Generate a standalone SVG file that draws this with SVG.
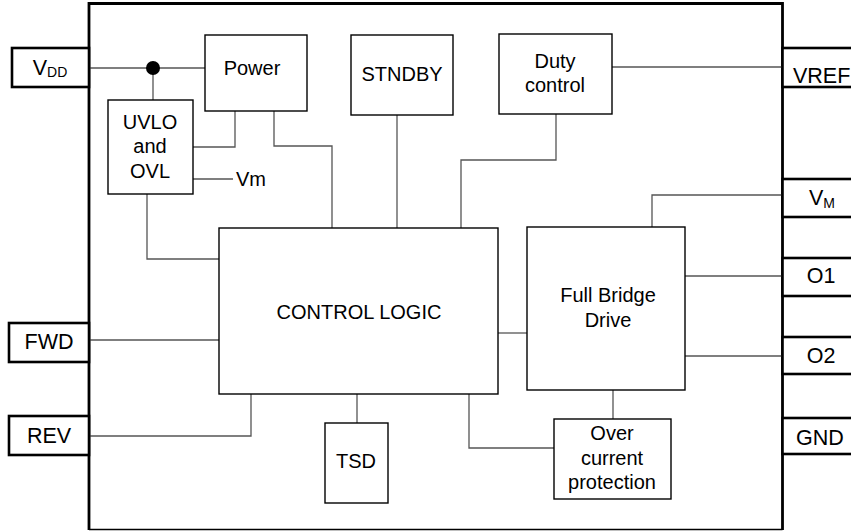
<svg xmlns="http://www.w3.org/2000/svg" width="851" height="531" viewBox="0 0 851 531">
<style>
text{font-family:"Liberation Sans",Arial,sans-serif;font-size:20px;fill:#000;text-anchor:middle}
.pin text{font-size:21.5px}
.blk{fill:#fff;stroke:#000;stroke-width:1.4}
.pinbox{fill:#fff;stroke:#000;stroke-width:2.6}
.wire{fill:none;stroke:#555;stroke-width:1.3}
</style>
<rect width="851" height="531" fill="#fff"/>
<g id="chip">
<path d="M89,530 L89,3.5 L782.5,3.5 L782.5,530" fill="none" stroke="#000" stroke-width="2.8"/>
<path d="M89,529.5 L782.5,529.5" fill="none" stroke="#000" stroke-width="1.5"/>
</g>
<g id="connectors">
<path class="wire" d="M89,68 H205"/>
<path class="wire" d="M153,68 V100"/>
<path class="wire" d="M235,111 V147 H193"/>
<path class="wire" d="M274,111 V146 H332 V228"/>
<path class="wire" d="M193,179 H233"/>
<path class="wire" d="M147,194 V259 H219"/>
<path class="wire" d="M397,115 V228"/>
<path class="wire" d="M556,114 V160 H461 V228"/>
<path class="wire" d="M612,67 H782"/>
<path class="wire" d="M782,195 H652 V227"/>
<path class="wire" d="M89,340 H219"/>
<path class="wire" d="M89,436 H251 V394"/>
<path class="wire" d="M498,333 H527"/>
<path class="wire" d="M357,394 V423"/>
<path class="wire" d="M469,394 V448 H554"/>
<path class="wire" d="M613,390 V419"/>
<path class="wire" d="M685,276 H782"/>
<path class="wire" d="M685,356 H782"/>
<circle cx="153" cy="68" r="7" fill="#000"/>
</g>
<g id="power"><rect class="blk" x="205" y="35" width="102" height="76"/><text x="252" y="75">Power</text></g>
<g id="uvlo"><rect class="blk" x="108" y="100" width="85" height="94"/><text x="150" y="129">UVLO</text><text x="150" y="153">and</text><text x="150" y="178">OVL</text></g>
<g id="vm-label"><text x="251" y="186">Vm</text></g>
<g id="stndby"><rect class="blk" x="351" y="35" width="102" height="80"/><text x="402" y="81">STNDBY</text></g>
<g id="duty"><rect class="blk" x="499" y="34" width="113" height="80"/><text x="555" y="68">Duty</text><text x="555" y="92">control</text></g>
<g id="control-logic"><rect class="blk" x="219" y="228" width="279" height="166"/><text x="359" y="319">CONTROL LOGIC</text></g>
<g id="full-bridge"><rect class="blk" x="527" y="227" width="158" height="163"/><text x="608" y="302">Full Bridge</text><text x="608" y="327">Drive</text></g>
<g id="tsd"><rect class="blk" x="325" y="423" width="63" height="80"/><text x="356" y="468">TSD</text></g>
<g id="ocp"><rect class="blk" x="554" y="419" width="117" height="80"/><text x="612" y="440">Over</text><text x="612" y="465">current</text><text x="612" y="489">protection</text></g>
<g id="pin-vdd" class="pin"><rect class="pinbox" x="12" y="48" width="77" height="39"/><text x="50" y="75"><tspan>V</tspan><tspan font-size="14" dy="2">DD</tspan></text></g>
<g id="pin-fwd" class="pin"><rect class="pinbox" x="9" y="323" width="80" height="39"/><text x="49" y="349">FWD</text></g>
<g id="pin-rev" class="pin"><rect class="pinbox" x="9" y="416" width="80" height="39"/><text x="49" y="443">REV</text></g>
<g id="pin-vref" class="pin"><rect class="pinbox" x="782.5" y="48" width="80" height="39"/><text x="793" y="83" style="text-anchor:start">VREF</text></g>
<g id="pin-vm" class="pin"><rect class="pinbox" x="782.5" y="179" width="80" height="38"/><text x="822" y="205"><tspan>V</tspan><tspan font-size="14" dy="3">M</tspan></text></g>
<g id="pin-o1" class="pin"><rect class="pinbox" x="782.5" y="258" width="80" height="38"/><text x="821" y="283">O1</text></g>
<g id="pin-o2" class="pin"><rect class="pinbox" x="782.5" y="337" width="80" height="37"/><text x="821" y="363">O2</text></g>
<g id="pin-gnd" class="pin"><rect class="pinbox" x="782.5" y="418" width="80" height="36"/><text x="820" y="445">GND</text></g>
</svg>
